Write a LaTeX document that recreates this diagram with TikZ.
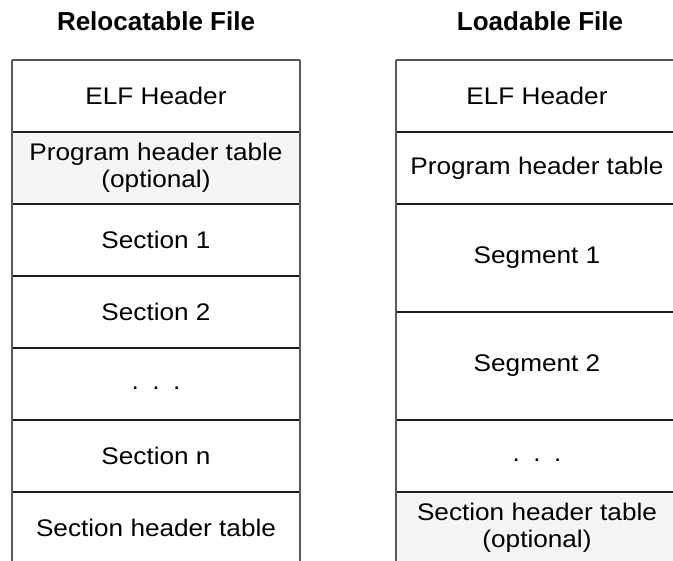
\documentclass[tikz,border=0pt]{standalone}
\usepackage{fontspec}
\setmainfont{Liberation Sans}[FakeStretch=1.09]
\newfontfamily\titlefont{Liberation Sans}
\definecolor{edgegray}{HTML}{595959}
\definecolor{divdark}{HTML}{1E1E1E}
\definecolor{cellgray}{HTML}{F5F5F5}
\newcommand{\threedots}{\vphantom{Sg}.\hspace{13.5pt}.\hspace{13.5pt}.}
\begin{document}
\begin{tikzpicture}[x=1pt,y=-1pt,
  cell/.style={anchor=north west, inner sep=0pt, outer sep=0pt, align=center,
    font=\fontsize{24}{26.5}\selectfont, text=black},
  lcell/.style={cell, minimum width=288pt, minimum height=#1},
  rcell/.style={cell, minimum width=282pt, minimum height=#1},
  shaded/.style={fill=cellgray},
  title/.style={font=\titlefont\fontsize{26}{30}\selectfont\bfseries, inner sep=0pt},
  edge/.style={draw=edgegray, line width=2pt},
  divider/.style={draw=divdark, line width=1.6pt}]
\useasboundingbox (0,0) rectangle (673,561);
\clip (0,0) rectangle (673,561);
\fill[white] (0,0) rectangle (673,561);
% titles
\node[title] (tl) at (156,21) {Relocatable File};
\node[title] (tr) at (540,21) {Loadable File};
% left column
\node[lcell=72pt] (l1) at (12,60) {ELF Header};
\node[lcell=72pt, shaded] (l2) at (12,132) {Program header table\\(optional)};
\node[lcell=72pt] (l3) at (12,204) {Section 1};
\node[lcell=72pt] (l4) at (12,276) {Section 2};
\node[lcell=72pt] (l5) at (12,348) {\threedots};
\node[lcell=72pt] (l6) at (12,420) {Section n};
\node[lcell=72pt] (l7) at (12,492) {Section header table};
% right column
\node[rcell=72pt] (r1) at (396,60) {ELF Header};
\node[rcell=72pt] (r2) at (396,132) {Program header table};
\node[rcell=108pt] (r3) at (396,204) {Segment 1};
\node[rcell=108pt] (r4) at (396,312) {Segment 2};
\node[rcell=72pt] (r5) at (396,420) {\threedots};
\node[rcell=72pt, shaded] (r6) at (396,492) {Section header table\\(optional)};
% dividers
\foreach \a in {l1,l2,l3,l4,l5,l6,r1,r2,r3,r4,r5}
  \draw[divider] (\a.south west) -- (\a.south east);
% outer edges
\draw[edge] (l1.north west) -- (l1.north east);
\draw[edge] (r1.north west) -- (r1.north east);
\draw[edge] (l1.north west) -- (l7.south west);
\draw[edge] (l1.north east) -- (l7.south east);
\draw[edge] (r1.north west) -- (r6.south west);
\draw[edge] (r1.north east) -- (r6.south east);
\end{tikzpicture}
\end{document}
